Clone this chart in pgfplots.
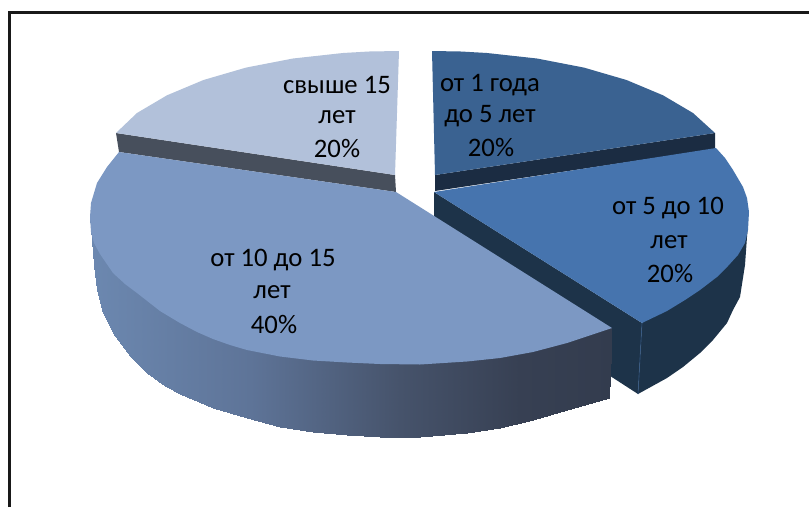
\documentclass[border=0pt]{standalone}
\usepackage{pgfplots}
\pgfplotsset{compat=1.18}
\usepackage{fontspec}
\setmainfont{Carlito}
\definecolor{topA}{HTML}{3A6291}
\definecolor{topB}{HTML}{4674AE}
\definecolor{topC}{HTML}{7C98C3}
\definecolor{topD}{HTML}{B2C1DA}
\definecolor{sideA}{HTML}{1B2C42}
\definecolor{sideB}{HTML}{1D3349}
\definecolor{sideD}{HTML}{474F5C}
\tikzset{lbl/.style={font=\fontsize{26.7}{27}\selectfont}}
\begin{document}
\begin{tikzpicture}
\begin{axis}[
  width=809pt, height=507pt, scale only axis,
  xmin=0, xmax=809, ymin=0, ymax=507, y dir=reverse,
  axis lines=none, clip=true,
  colormap={bigside}{rgb255(0cm)=(108,136,176) rgb255(3.07cm)=(94,116,152) rgb255(5.94cm)=(70,83,107) rgb255(8.24cm)=(55,64,83) rgb255(10cm)=(51,60,78)},
  point meta min=90, point meta max=612]
\addplot[fill=white, draw=none] coordinates {(0,0)(809,0)(809,507)(0,507)} --cycle;
% frame
\addplot[black!90, line width=2.2pt] coordinates {(9.5,507)(9.5,12.5)(809,12.5)};
% slice 1
\addplot[fill=sideA, draw=none] coordinates {(715,133)(435,175)(435,191)(715,149)} --cycle;
\addplot[fill=topA, draw=none] coordinates {(432,51)(461,51.5)(487,53)(537,58.5)(584,67.6)(626.5,80)(663,95.3)(693,113)(715,133)(435,175)} --cycle;
% slice 4
\addplot[fill=sideD, draw=none] coordinates {(116,133)(395,175)(396,192)(119,152)} --cycle;
\addplot[fill=topD, draw=none] coordinates {(399,51)(369,51.5)(343,53)(293,58.5)(246,67.6)(203.5,80)(167,95.3)(137,113)(116,133)(395,175)} --cycle;
% slice 2
\addplot[fill=sideB, draw=none] coordinates {(434,192)(642,323)(638,394)(434,262)} --cycle;
\addplot[fill=sideB, draw=none] coordinates {(748,225)(747,237)(745,265)(740,297)(733,310)(727,323)(713,340)(700,353)(683,367)(667,378)(638,394)(642,323)} --cycle;
\addplot[fill=topB, draw=none] coordinates {(434,192)(716,148)(725,158)(733,170)(743,187)(747,198)(749,212)(748,230)(745,243)(738,255)(728,266)(717,277)(700,290)(685,300)(667,311)(642,323)} --cycle;
\addplot[color=topB!60!sideB, line width=0.6pt] coordinates {(642,323)(638,394)};
% big slice: side
\addplot[surf, shader=interp, mesh/rows=2, point meta=x] coordinates {
 (90,217)(92,217.4)(94,218)(97,218.5)(103,220)(113,222)(130,225.5)(147,229)(165,233)(180,236)(213,243)(247,250)(280,257)(313,264)(347,272)(380,279)(420,287)(467,297)(500,304)(533,311)(567,318)(612,328)

 (90,217)(92,240)(94,265)(97,290)(103,313)(113,333)(130,356)(147,373)(165,386)(180,394)(213,408)(247,418)(280,427)(313,432)(347,435)(380,437)(420,437)(467,433)(500,428)(533,420)(567,410)(609,398)
};
% big slice: top
\addplot[fill=topC, draw=none] coordinates {(396,192)(119,152)(107,167)(97,183)(91,203)(90,217)(91,232)(94,243)(100,254)(113,273)(125,284)(137,293)(160,311)(180,323)(197,332)(213,339)(230,345)(247,350)(280,356.5)(313,360.5)(347,362.5)(380,364)(420,364.5)(467,361.5)(500,358)(533,352)(567,343)(612,328)} --cycle;
% labels
\node[lbl] at (axis cs:337,85) {свыше 15};
\node[lbl] at (axis cs:337,117) {лет};
\node[lbl] at (axis cs:337,148) {20\%};
\node[lbl] at (axis cs:490,85) {от 1 года};
\node[lbl] at (axis cs:490,116) {до 5 лет};
\node[lbl] at (axis cs:491,147) {20\%};
\node[lbl] at (axis cs:668,208) {от 5 до 10};
\node[lbl] at (axis cs:669,242) {лет};
\node[lbl] at (axis cs:670,273) {20\%};
\node[lbl] at (axis cs:273,260) {от 10 до 15};
\node[lbl] at (axis cs:272,292) {лет};
\node[lbl] at (axis cs:274,324) {40\%};
\end{axis}
\end{tikzpicture}
\end{document}
